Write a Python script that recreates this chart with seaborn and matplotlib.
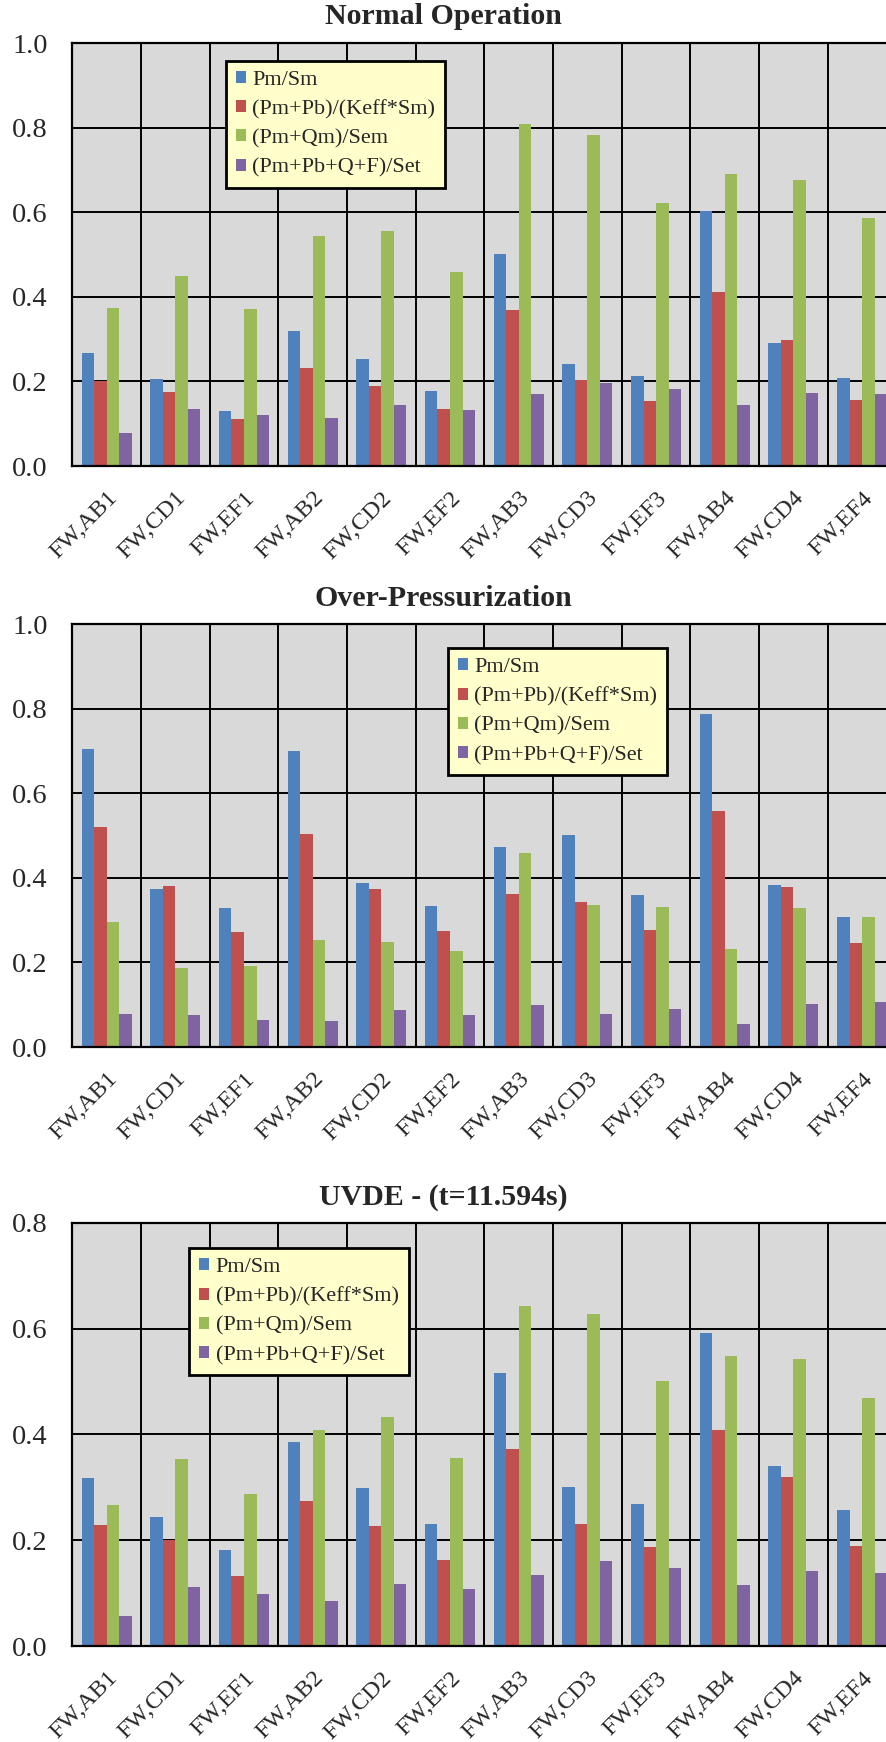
import numpy as np
import pandas as pd
import matplotlib
matplotlib.use("Agg")
import matplotlib.pyplot as plt
from matplotlib.patches import Patch
import seaborn as sns

# ---- data -------------------------------------------------------------
categories = ["FW,AB1", "FW,CD1", "FW,EF1", "FW,AB2", "FW,CD2", "FW,EF2",
              "FW,AB3", "FW,CD3", "FW,EF3", "FW,AB4", "FW,CD4", "FW,EF4"]
series_names = ["Pm/Sm", "(Pm+Pb)/(Keff*Sm)", "(Pm+Qm)/Sem", "(Pm+Pb+Q+F)/Set"]

normal_pm = [0.268, 0.205, 0.130, 0.319, 0.252, 0.177, 0.501, 0.242, 0.214, 0.603, 0.290, 0.208]
normal_pmpb = [0.200, 0.175, 0.112, 0.232, 0.189, 0.136, 0.369, 0.203, 0.153, 0.412, 0.298, 0.155]
normal_pmqm = [0.373, 0.449, 0.371, 0.545, 0.556, 0.458, 0.809, 0.782, 0.622, 0.691, 0.676, 0.586]
normal_set = [0.077, 0.134, 0.120, 0.114, 0.144, 0.133, 0.170, 0.197, 0.183, 0.144, 0.173, 0.170]

over_pm = [0.704, 0.374, 0.328, 0.701, 0.387, 0.333, 0.473, 0.502, 0.359, 0.787, 0.383, 0.307]
over_pmpb = [0.520, 0.381, 0.273, 0.505, 0.374, 0.274, 0.362, 0.342, 0.276, 0.559, 0.378, 0.245]
over_pmqm = [0.295, 0.188, 0.191, 0.253, 0.248, 0.228, 0.460, 0.335, 0.332, 0.232, 0.329, 0.307]
over_set = [0.078, 0.075, 0.065, 0.061, 0.087, 0.075, 0.100, 0.077, 0.090, 0.055, 0.101, 0.106]

uvde_pm = [0.317, 0.244, 0.181, 0.386, 0.298, 0.231, 0.516, 0.300, 0.269, 0.591, 0.340, 0.257]
uvde_pmpb = [0.228, 0.201, 0.132, 0.274, 0.227, 0.163, 0.372, 0.230, 0.187, 0.408, 0.320, 0.189]
uvde_pmqm = [0.266, 0.353, 0.288, 0.408, 0.432, 0.356, 0.642, 0.628, 0.500, 0.549, 0.542, 0.469]
uvde_set = [0.056, 0.111, 0.099, 0.085, 0.117, 0.107, 0.135, 0.160, 0.148, 0.115, 0.141, 0.138]

titles = ["Normal Operation", "Over-Pressurization", "UVDE - (t=11.594s)"]
y_max = [1.0, 1.0, 0.8]
colors = ["#4F81BD", "#C0504D", "#9BBB59", "#8064A2"]

panels = [
    [normal_pm, normal_pmpb, normal_pmqm, normal_set],
    [over_pm, over_pmpb, over_pmqm, over_set],
    [uvde_pm, uvde_pmpb, uvde_pmqm, uvde_set],
]

# ---- layout (pixels on an 886 x 1742 canvas) ---------------------------
W, H = 886, 1742
left_px, right_px = 72.3, 896.4
axes_px = [(43.3, 466.0), (624.3, 1047.0), (1222.7, 1646.0)]   # (top, bottom)
title_px = [17, 599, 1197]
legend_px = [(225.7, 60.7), (447.5, 648.3), (189.0, 1248.3)]   # upper-left corner

sns.set_style("white")
plt.rcParams["font.family"] = ["Liberation Serif", "DejaVu Serif"]

fig = plt.figure(figsize=(W / 100, H / 100), dpi=100)

for i, values in enumerate(panels):
    top, bottom = axes_px[i]
    ax = fig.add_axes([left_px / W, 1 - bottom / H,
                       (right_px - left_px) / W, (bottom - top) / H])

    df = pd.DataFrame({
        "category": np.repeat(categories, len(series_names)),
        "series": series_names * len(categories),
        "value": np.array(values).T.ravel(),
    })
    sns.barplot(data=df, x="category", y="value", hue="series",
                hue_order=series_names, order=categories, palette=colors,
                saturation=1, width=0.73, errorbar=None, legend=False,
                linewidth=0, ax=ax)

    ax.set_facecolor("#D9D9D9")
    ax.set_xlim(-0.5, len(categories) - 0.5)
    ax.set_ylim(0, y_max[i])
    ax.set_xlabel("")
    ax.set_ylabel("")
    ax.set_axisbelow(True)

    yt = np.round(np.arange(0, y_max[i] + 0.001, 0.2), 1)
    ax.set_yticks(yt)
    ax.set_yticklabels([f"{v:.1f}" for v in yt], fontsize=20.5)
    ax.yaxis.grid(True, color="black", linewidth=1.4)
    ax.tick_params(axis="y", direction="out", length=6.5, width=1.4,
                   pad=11, color="black")

    # category boundaries: minor ticks with vertical grid lines
    ax.set_xticks(np.arange(-0.5, len(categories) + 0.5, 1.0), minor=True)
    ax.xaxis.grid(True, which="minor", color="black", linewidth=1.4)
    ax.xaxis.grid(False, which="major")
    ax.tick_params(axis="x", which="minor", direction="out", length=7,
                   width=1.4, color="black")
    ax.tick_params(axis="x", which="major", length=0, pad=15.5)
    ax.set_xticks(range(len(categories)))
    ax.set_xticklabels(categories, rotation=45, ha="right", va="top",
                       rotation_mode="anchor", fontsize=17.5)

    for side in ["left", "bottom", "top"]:
        ax.spines[side].set_visible(True)
        ax.spines[side].set_color("black")
        ax.spines[side].set_linewidth(1.6)
    ax.spines["right"].set_visible(False)

    handles = [Patch(facecolor=c, edgecolor="none") for c in colors]
    lx, ly = legend_px[i]
    leg = ax.legend(handles, series_names, loc="upper left",
                    bbox_to_anchor=(lx / W, 1 - ly / H),
                    bbox_transform=fig.transFigure, borderaxespad=0,
                    fontsize=16, frameon=True, fancybox=False,
                    handlelength=0.45, handleheight=0.45, handletextpad=0.3,
                    labelspacing=0.45, borderpad=0.45)
    frame = leg.get_frame()
    frame.set_facecolor("#FFFFCC")
    frame.set_edgecolor("black")
    frame.set_linewidth(2)
    frame.set_alpha(1)

    fig.text(0.5, 1 - title_px[i] / H, titles[i], ha="center", va="center",
             fontsize=21.5, fontweight="bold")

fig.savefig("out.png", dpi=100)
